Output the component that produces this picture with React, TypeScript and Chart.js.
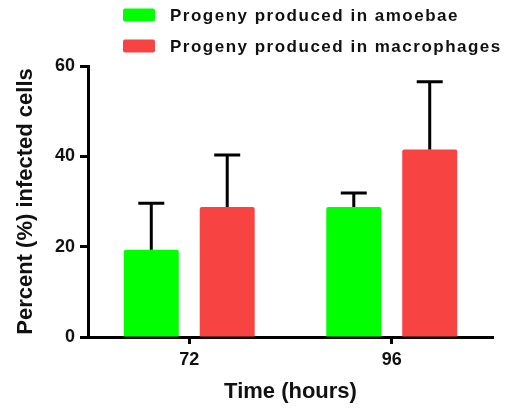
import { useEffect, useRef } from "react";
import { Chart, registerables } from "chart.js";

Chart.register(...registerables);

const categories = ["72", "96"];
const seriesNames = ["Progeny produced in amoebae", "Progeny produced in macrophages"];
const amoebaeMean = [19.3, 28.8];
const amoebaeErr = [10.3, 3.1];
const macroMean = [28.8, 41.5];
const macroErr = [11.5, 15.0];
const yTicks = [0, 20, 40, 60];
const seriesColors = ["#00FF00", "#F84343"];
const errors = [amoebaeErr, macroErr];

const FONT = "'Liberation Sans', Arial, Helvetica, sans-serif";
const TEXT = "#111111";

const errorBarPlugin = {
  id: "errorBars",
  afterDatasetsDraw(chart: any) {
    const ctx = chart.ctx;
    const yScale = chart.scales.y;
    chart.data.datasets.forEach((ds: any, di: number) => {
      const meta = chart.getDatasetMeta(di);
      meta.data.forEach((el: any, i: number) => {
        const top = yScale.getPixelForValue(ds.data[i] + errors[di][i]);
        ctx.save();
        ctx.strokeStyle = "#000";
        ctx.lineWidth = 3;
        ctx.beginPath();
        ctx.moveTo(el.x, el.y);
        ctx.lineTo(el.x, top);
        ctx.moveTo(el.x - 13, top);
        ctx.lineTo(el.x + 13, top);
        ctx.stroke();
        ctx.restore();
      });
    });
  },
};

const legendPlugin = {
  id: "customLegend",
  afterDraw(chart: any) {
    const ctx = chart.ctx;
    chart.data.datasets.forEach((ds: any, di: number) => {
      const cy = 15 + di * 31;
      ctx.save();
      ctx.fillStyle = ds.backgroundColor;
      ctx.beginPath();
      (ctx as any).roundRect(123, cy - 6.5, 32, 13, 2);
      ctx.fill();
      ctx.fillStyle = TEXT;
      ctx.font = `bold 17px ${FONT}`;
      (ctx as any).letterSpacing = "1.5px";
      ctx.textBaseline = "middle";
      ctx.textAlign = "left";
      ctx.fillText(ds.label, 170, cy + 1);
      ctx.restore();
    });
  },
};

export default function App() {
  const ref = useRef<HTMLCanvasElement | null>(null);
  useEffect(() => {
    document.body.style.margin = "0";
    if (!ref.current) return;
    const chart = new Chart(ref.current, {
      type: "bar",
      data: {
        labels: categories,
        datasets: [
          {
            label: seriesNames[0],
            data: amoebaeMean,
            backgroundColor: seriesColors[0],
            borderRadius: 2,
            borderSkipped: "start",
            categoryPercentage: 0.75,
            barPercentage: 0.724,
          },
          {
            label: seriesNames[1],
            data: macroMean,
            backgroundColor: seriesColors[1],
            borderRadius: 2,
            borderSkipped: "start",
            categoryPercentage: 0.75,
            barPercentage: 0.724,
          },
        ],
      },
      options: {
        animation: false,
        responsive: false,
        devicePixelRatio: 1,
        layout: { padding: { top: 66, right: 17, left: 0, bottom: 0 } },
        plugins: {
          legend: { display: false },
          tooltip: { enabled: false },
        },
        scales: {
          x: {
            z: 1,
            grid: {
              offset: false,
              drawOnChartArea: false,
              drawTicks: true,
              tickLength: 7,
              tickWidth: 3,
              tickColor: "#000",
            },
            border: { display: true, color: "#000", width: 3 },
            ticks: {
              color: TEXT,
              font: { family: FONT, size: 18, weight: "bold" },
              padding: 5,
            },
            title: {
              display: true,
              text: "Time (hours)",
              color: TEXT,
              font: { family: FONT, size: 22, weight: "bold", lineHeight: 1.2 },
              padding: { top: 0, bottom: 3 },
            },
            afterFit(scale: any) {
              scale.height = 71;
            },
          },
          y: {
            z: 1,
            min: 0,
            max: 60,
            grid: {
              drawOnChartArea: false,
              drawTicks: true,
              tickLength: 8,
              tickWidth: 3,
              tickColor: "#000",
            },
            border: { display: true, color: "#000", width: 3 },
            ticks: {
              color: TEXT,
              font: { family: FONT, size: 18, weight: "bold" },
              padding: 5,
            },
            afterBuildTicks(scale: any) {
              scale.ticks = yTicks.map((v) => ({ value: v }));
            },
            title: {
              display: true,
              text: "Percent (%) infected cells",
              color: TEXT,
              font: { family: FONT, size: 22, weight: "bold", lineHeight: 1.2 },
              padding: { top: 13, bottom: 0 },
            },
            afterFit(scale: any) {
              scale.width = 88;
            },
          },
        },
      } as any,
      plugins: [errorBarPlugin, legendPlugin],
    });
    return () => chart.destroy();
  }, []);
  return (
    <div style={{ width: 510, height: 408 }}>
      <canvas ref={ref} width={510} height={408} style={{ display: "block" }} />
    </div>
  );
}
